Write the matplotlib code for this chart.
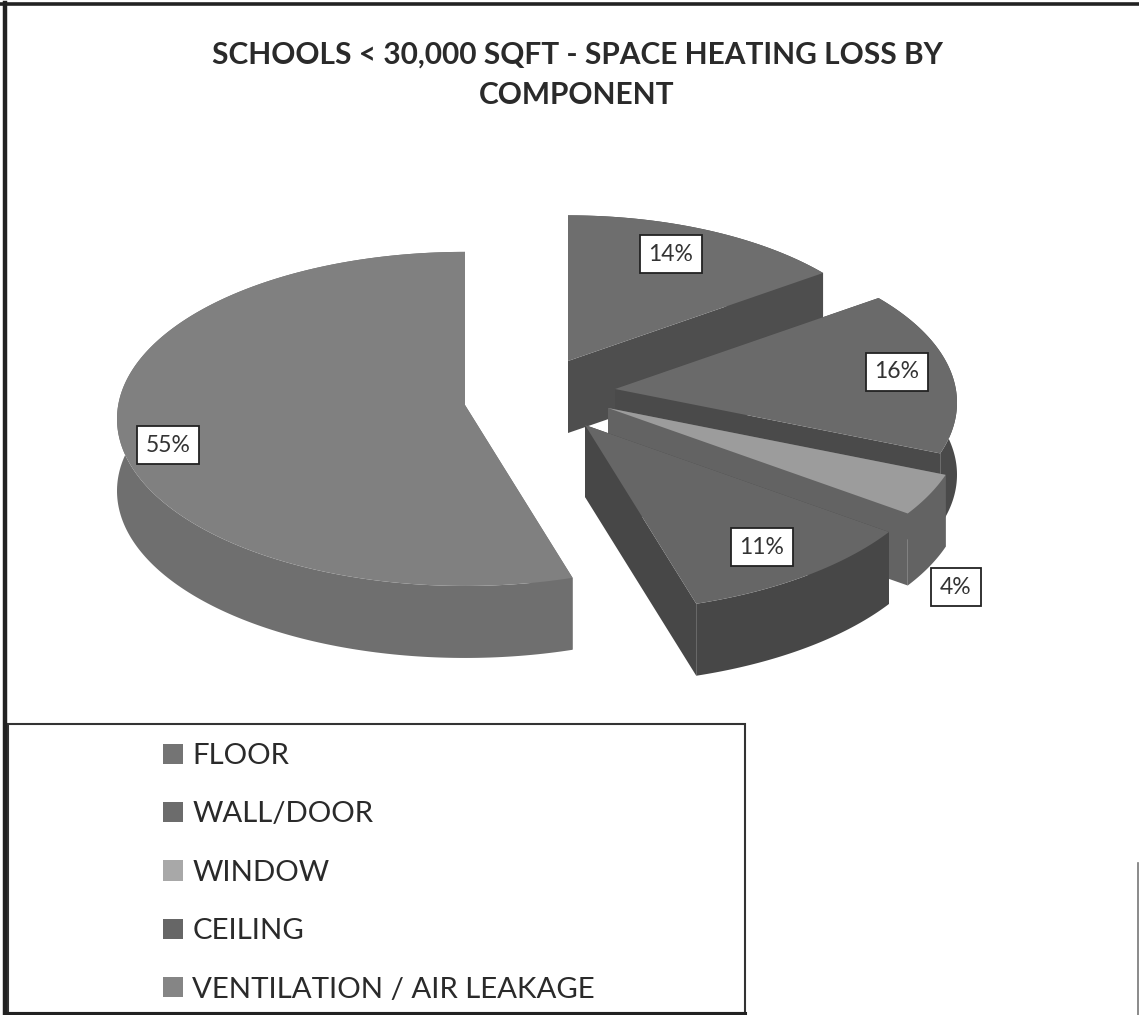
import numpy as np
import matplotlib
matplotlib.use('Agg')
from matplotlib import pyplot as plt
from matplotlib.patches import Polygon, Rectangle, Patch

categories = ['FLOOR', 'WALL/DOOR', 'WINDOW', 'CEILING', 'VENTILATION / AIR LEAKAGE']
values = [14, 16, 4, 11, 55]
title = 'SCHOOLS < 30,000 SQFT - SPACE HEATING LOSS BY\nCOMPONENT'

# greys off the scan
top_colors = ['#6e6e6e', '#6a6a6a', '#9c9c9c', '#666666', '#808080']
side_colors = ['#4e4e4e', '#4a4a4a', '#636363', '#474747', '#6f6f6f']
legend_colors = ['#747474', '#6c6c6c', '#a8a8a8', '#666666', '#858585']

# pixel layout of each exploded slice
apex_x = [568, 615, 608, 585, 465]
apex_y = [361, 389, 408, 425, 405]
radius_x = [331, 342, 355, 360, 348]
label_x = [671, 897, 956, 762, 168]
label_y = [254, 372, 587, 547, 445]
up_ratio = 0.44
down_ratio = 0.52
depth = 72

plt.rcParams['font.family'] = ['Lato', 'DejaVu Sans']
fig = plt.figure(figsize=(11.39, 10.15), dpi=100)
ax = fig.add_axes([0, 0, 1, 1])
ax.set_xlim(0, 1139)
ax.set_ylim(1015, 0)
ax.axis('off')


def rim(cx, cy, rx, angles):
    # angles clockwise from 12 o'clock, ellipse sits a bit below the apex (perspective)
    b = (up_ratio + down_ratio) / 2 * rx
    mid = cy + (down_ratio - up_ratio) / 2 * rx
    return cx + rx * np.sin(angles), mid - b * np.cos(angles)


shares = np.array(values) / sum(values) * 2 * np.pi
ends = np.cumsum(shares)
starts = ends - shares

for i in range(len(values)):
    t = np.linspace(starts[i], ends[i], 200)
    x, y = rim(apex_x[i], apex_y[i], radius_x[i], t)
    cx, cy = apex_x[i], apex_y[i]
    # outer wall
    wall = np.column_stack([np.r_[x, x[::-1]], np.r_[y, y[::-1] + depth]])
    ax.add_patch(Polygon(wall, fc=side_colors[i], ec='none', zorder=2 + i))
    # cut faces
    for k in (0, -1):
        face = [(cx, cy), (x[k], y[k]), (x[k], y[k] + depth), (cx, cy + depth)]
        ax.add_patch(Polygon(face, fc=side_colors[i], ec='none', zorder=2 + i))
    top = np.column_stack([np.r_[cx, x], np.r_[cy, y]])
    ax.add_patch(Polygon(top, fc=top_colors[i], ec='none', zorder=2 + i))
    ax.text(label_x[i], label_y[i], '%d%%' % values[i], fontsize=16.5, color='#333333',
            ha='center', va='center', zorder=20,
            bbox=dict(boxstyle='square,pad=0.38', fc='white', ec='#222222', lw=1.3))

ax.text(577, 75, title, fontsize=21.5, fontweight='bold', color='#2a2a2a',
        ha='center', va='center', linespacing=1.55)

# scan frame
ax.plot([5, 5], [3, 1015], color='#222222', lw=3.2)
ax.plot([0, 1139], [4, 4], color='#222222', lw=2.6)
ax.plot([5, 745], [1013, 1013], color='#222222', lw=2.2)
ax.plot([1137.5, 1137.5], [863, 1015], color='#777777', lw=1.2)

ax.add_patch(Rectangle((8, 724), 737, 289, fc='white', ec='#333333', lw=1.5, zorder=1))
handles = [Patch(fc=c, ec='none') for c in legend_colors]
ax.legend(handles, categories, loc='upper left', bbox_to_anchor=(163, 743),
          bbox_transform=ax.transData, frameon=False, fontsize=21.2, labelcolor='#2a2a2a',
          handlelength=0.68, handleheight=0.68, handletextpad=0.32, labelspacing=1.1,
          borderpad=0, borderaxespad=0).set_zorder(30)

fig.savefig('out.png', dpi=100)
